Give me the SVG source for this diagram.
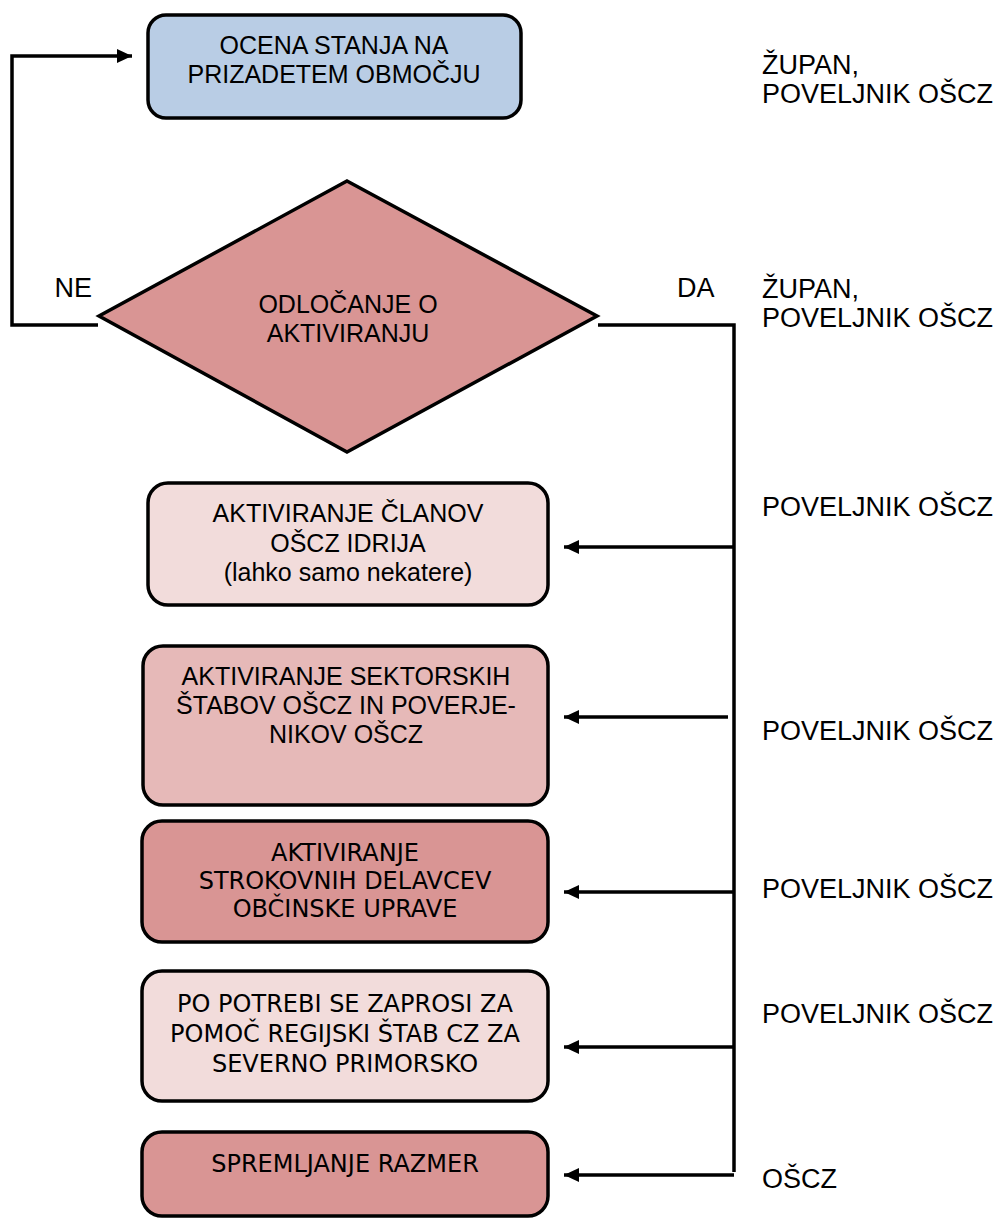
<svg xmlns="http://www.w3.org/2000/svg" width="1005" height="1218" viewBox="0 0 1005 1218">
  <style>
    .box { stroke: #000; stroke-width: 3.5; }
    .blue { fill: #b9cde5; }
    .rose { fill: #d99594; }
    .pale { fill: #f2dcdb; }
    .mid { fill: #e6b9b8; }
    .t { font-family: "Liberation Sans", Arial, sans-serif; font-size: 25px; fill: #000; }
    .r { font-family: "Liberation Sans", Arial, sans-serif; font-size: 27px; fill: #000; }
    .c { text-anchor: middle; }
    .tb { font-family: "DejaVu Sans", Verdana, sans-serif; font-size: 24px; fill: #000; text-anchor: middle; }
    .line { fill: none; stroke: #000; stroke-width: 3.5; }
  </style>
  <defs>
    <marker id="arr" markerUnits="userSpaceOnUse" markerWidth="16" markerHeight="16" viewBox="0 0 16 16" refX="15" refY="8" orient="auto">
      <path d="M0,1 L15,8 L0,15 Z" fill="#000"/>
    </marker>
  </defs>
  <rect width="1005" height="1218" fill="#fff"/>

  <g id="connectors">
    <polyline class="line" points="98,325 12,325 12,56 132,56" marker-end="url(#arr)"/>
    <polyline class="line" points="598,325 734,325 734,1172"/>
    <line class="line" x1="734" y1="547" x2="564" y2="547" marker-end="url(#arr)"/>
    <line class="line" x1="728" y1="717" x2="564" y2="717" marker-end="url(#arr)"/>
    <line class="line" x1="734" y1="892" x2="564" y2="892" marker-end="url(#arr)"/>
    <line class="line" x1="734" y1="1047" x2="564" y2="1047" marker-end="url(#arr)"/>
    <line class="line" x1="734" y1="1175" x2="564" y2="1175" marker-end="url(#arr)"/>
  </g>

  <g id="ocena">
    <rect class="box blue" x="148" y="15" width="373" height="103" rx="18"/>
    <text class="t c" x="334" y="54">OCENA STANJA NA</text>
    <text class="t c" x="334" y="83">PRIZADETEM OBMOČJU</text>
  </g>

  <g id="odlocanje">
    <polygon class="box rose" points="347,181 597,316 347,452 99,316"/>
    <text class="t c" x="348" y="313">ODLOČANJE O</text>
    <text class="t c" x="348" y="342">AKTIVIRANJU</text>
  </g>

  <g id="label-ne"><text class="r" x="92" y="297" text-anchor="end">NE</text></g>
  <g id="label-da"><text class="r" x="677" y="297">DA</text></g>

  <g id="clanov">
    <rect class="box pale" x="148" y="483" width="400" height="122" rx="20"/>
    <text class="t c" x="348" y="522">AKTIVIRANJE ČLANOV</text>
    <text class="t c" x="348" y="552">OŠCZ IDRIJA</text>
    <text class="t c" x="348" y="581">(lahko samo nekatere)</text>
  </g>

  <g id="sektorski">
    <rect class="box mid" x="143" y="646" width="405" height="159" rx="20"/>
    <text class="t c" x="346" y="685">AKTIVIRANJE SEKTORSKIH</text>
    <text class="t c" x="346" y="714">ŠTABOV OŠCZ IN POVERJE-</text>
    <text class="t c" x="346" y="743">NIKOV OŠCZ</text>
  </g>

  <g id="strokovni">
    <rect class="box rose" x="142" y="821" width="406" height="121" rx="20"/>
    <text class="tb" x="345" y="861">AKTIVIRANJE</text>
    <text class="tb" x="345" y="889">STROKOVNIH DELAVCEV</text>
    <text class="tb" x="345" y="917">OBČINSKE UPRAVE</text>
  </g>

  <g id="regijski">
    <rect class="box pale" x="142" y="971" width="406" height="130" rx="20"/>
    <text class="tb" x="345" y="1012">PO POTREBI SE ZAPROSI ZA</text>
    <text class="tb" x="345" y="1042">POMOČ REGIJSKI ŠTAB CZ ZA</text>
    <text class="tb" x="345" y="1072">SEVERNO PRIMORSKO</text>
  </g>

  <g id="spremljanje">
    <rect class="box rose" x="142" y="1132" width="406" height="84" rx="20"/>
    <text class="tb" x="345" y="1172">SPREMLJANJE RAZMER</text>
  </g>

  <g id="odgovorni">
    <text class="r" x="762" y="74">ŽUPAN,</text>
    <text class="r" x="762" y="103">POVELJNIK OŠCZ</text>
    <text class="r" x="762" y="298">ŽUPAN,</text>
    <text class="r" x="762" y="327">POVELJNIK OŠCZ</text>
    <text class="r" x="762" y="516">POVELJNIK OŠCZ</text>
    <text class="r" x="762" y="740">POVELJNIK OŠCZ</text>
    <text class="r" x="762" y="898">POVELJNIK OŠCZ</text>
    <text class="r" x="762" y="1023">POVELJNIK OŠCZ</text>
    <text class="r" x="762" y="1188">OŠCZ</text>
  </g>
</svg>
